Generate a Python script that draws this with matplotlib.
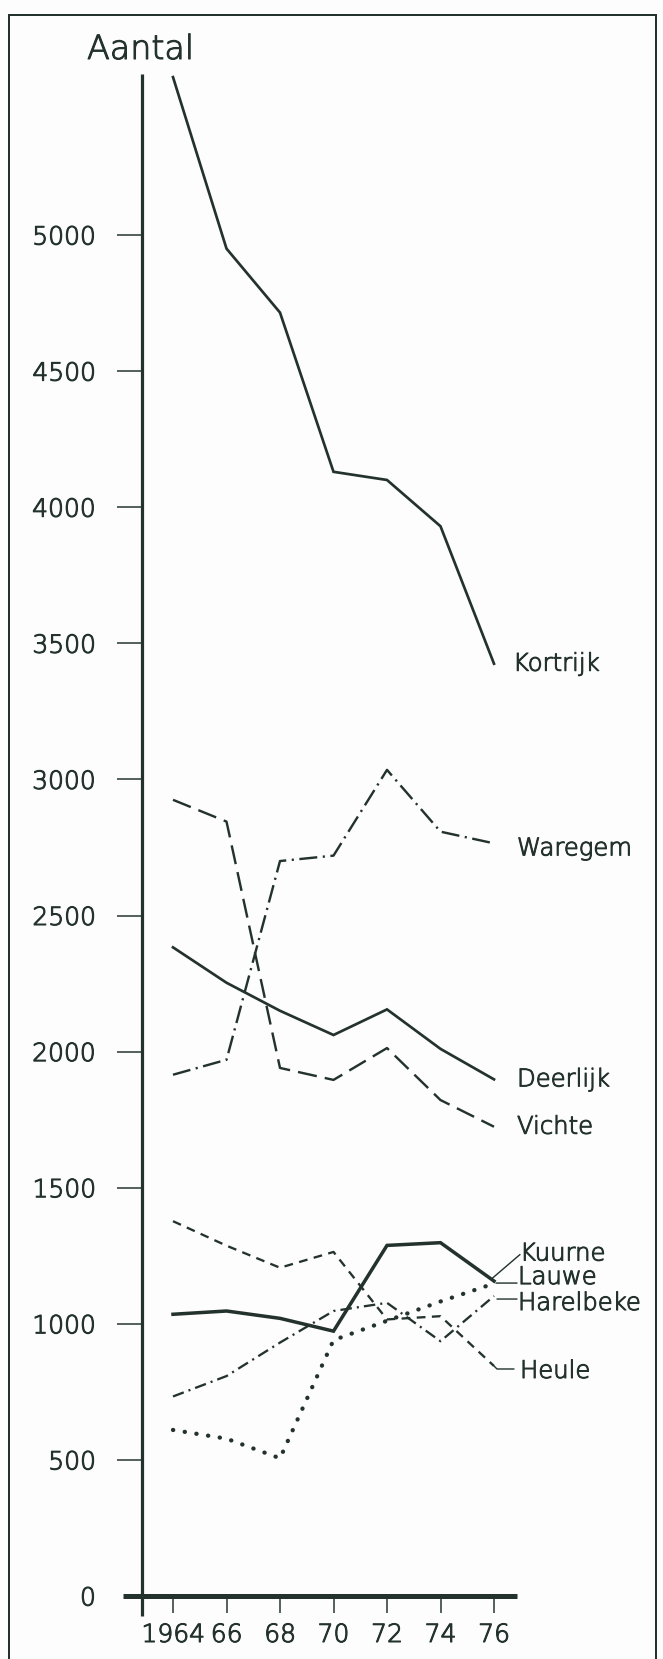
import matplotlib.pyplot as plt
import matplotlib.patheffects as pe

# data (Aantal per gemeente, 1964-1976)
years = [1964, 1966, 1968, 1970, 1972, 1974, 1976]
year_labels = ['1964', '66', '68', '70', '72', '74', '76']
y_ticks = [0, 500, 1000, 1500, 2000, 2500, 3000, 3500, 4000, 4500, 5000]

kortrijk = [5580, 4950, 4715, 4130, 4100, 3930, 3425]
waregem = [1915, 1970, 2700, 2720, 3035, 2808, 2765]
vichte = [2925, 2845, 1940, 1896, 2013, 1822, 1724]
deerlijk = [2383, 2253, 2150, 2061, 2155, 2010, 1898]
kuurne = [610, 578, 506, 940, 1011, 1082, 1148]
lauwe = [1035, 1047, 1020, 973, 1288, 1298, 1157]
harelbeke = [733, 808, 931, 1047, 1077, 936, 1102]
heule = [1377, 1287, 1206, 1264, 1016, 1028, 845]

INK = '#24322d'
PAPER = '#fcfdfc'
W, H, DPI = 663, 1659, 100
PT = 72 / DPI  # pixels -> points

plt.rcParams['font.family'] = ['DejaVu Sans']
plt.rcParams['font.weight'] = 200
# thin lettering pen: thicken the extra-light face a little
pen = [pe.withStroke(linewidth=0.75, foreground=INK)]

# layout in pixels, measured from the top-left of the picture
px_left, px_yaxis, px_right = 123, 142, 517
px_top, px_zero, px_bottom = 74, 1596, 1616
px_1964, px_1976 = 173, 494
px_per_unit = 0.2722

fig = plt.figure(figsize=(W / DPI, H / DPI), dpi=DPI, facecolor=PAPER)
ax = fig.add_axes([px_yaxis / W, 1 - px_zero / H,
                   (px_right - px_yaxis) / W, (px_zero - px_top) / H])
ax.set_facecolor('none')

px_per_year = (px_1976 - px_1964) / (1976 - 1964)
ax.set_xlim(1964 - (px_1964 - px_yaxis) / px_per_year,
            1976 + (px_right - px_1976) / px_per_year)
ax.set_ylim(0, (px_zero - px_top) / px_per_unit)

for s in ['top', 'right']:
    ax.spines[s].set_visible(False)
ax.spines['left'].set_linewidth(3.2 * PT)
ax.spines['bottom'].set_linewidth(5 * PT)
for s in ['left', 'bottom']:
    ax.spines[s].set_color(INK)
    ax.spines[s].set_capstyle('butt')

# x-axis runs a little past the y-axis, and the y-axis a little below the x-axis
ax_w, ax_h = px_right - px_yaxis, px_zero - px_top
ax.plot([-(px_yaxis - px_left) / ax_w, 0], [0, 0], transform=ax.transAxes,
        color=INK, lw=5 * PT, solid_capstyle='butt', clip_on=False)
ax.plot([0, 0], [-(px_bottom - px_zero) / ax_h, 0], transform=ax.transAxes,
        color=INK, lw=3.2 * PT, solid_capstyle='butt', clip_on=False)

ax.set_xticks(years)
ax.set_xticklabels(year_labels)
ax.set_yticks(y_ticks)
ax.tick_params(axis='y', direction='out', length=25 * PT, width=1.5 * PT,
               pad=21 * PT, labelsize=18, colors=INK)
ax.tick_params(axis='x', direction='out', length=17 * PT, width=1.5 * PT,
               pad=10 * PT, labelsize=18, colors=INK)
ax.yaxis.get_major_ticks()[0].tick1line.set_visible(False)
for t in ax.get_xticklabels() + ax.get_yticklabels():
    t.set_path_effects(pen)

series = [
    ('Kortrijk', kortrijk, dict(ls='-', lw=2.7 * PT)),
    ('Waregem', waregem, dict(ls=(0, (7.5, 2.3, 0.9, 2.3)), lw=2.4 * PT)),
    ('Deerlijk', deerlijk, dict(ls='-', lw=2.7 * PT)),
    ('Vichte', vichte, dict(ls=(0, (8, 3.4)), lw=2.4 * PT)),
    ('Kuurne', kuurne, dict(ls=(0, (0.05, 2.7)), lw=4.3 * PT, dash_capstyle='round')),
    ('Lauwe', lauwe, dict(ls='-', lw=3.5 * PT)),
    ('Harelbeke', harelbeke, dict(ls=(0, (5, 2.2, 0.9, 2.2)), lw=2.3 * PT)),
    ('Heule', heule, dict(ls=(0, (3.8, 2.8)), lw=2.3 * PT)),
]

# label offsets (pixels right, pixels down) from the last point, and leader lines
label_offsets = {
    'Kortrijk': (19, 7), 'Waregem': (23, 12), 'Deerlijk': (23, 7), 'Vichte': (23, 7),
    'Kuurne': (26, -23), 'Lauwe': (24, 3), 'Harelbeke': (24, 14), 'Heule': (26, 12),
}
leaders = {
    'Kuurne': ((-2, -5), (26, -29), 'arc3'),
    'Lauwe': ((2, 2), (23, 2), 'arc3'),
    'Harelbeke': ((3, 3), (23, 3), 'arc3'),
    'Heule': ((0, 0), (20, 3), 'angle,angleA=0,angleB=-45,rad=0'),
}

for name, vals, style in series:
    ax.plot(years, vals, color=INK, solid_joinstyle='miter', **style)
    dx, dy = label_offsets[name]
    ax.annotate(name, xy=(years[-1], vals[-1]), xytext=(dx, -dy),
                textcoords='offset pixels', ha='left', va='baseline',
                fontsize=17.5, color=INK, path_effects=pen)
    if name in leaders:
        (x0, y0), (x1, y1), conn = leaders[name]
        start = ax.transData.transform((years[-1], vals[-1]))
        p0 = ax.transData.inverted().transform((start[0] + x0, start[1] - y0))
        ax.annotate('', xy=p0, xytext=(x1 - x0, -(y1 - y0)),
                    textcoords='offset pixels',
                    arrowprops=dict(arrowstyle='-', color=INK, lw=1.4 * PT,
                                    shrinkA=0, shrinkB=0, connectionstyle=conn))

fig.text(87 / W, 1 - 59 / H, 'Aantal', fontsize=24, ha='left', va='baseline',
         color=INK, path_effects=pen)

# border of the drawing, its bottom edge runs off the page
fig.add_artist(plt.Rectangle((9 / W, -0.05), (656 - 9) / W, 1.05 - 15 / H,
                             transform=fig.transFigure, fill=False,
                             lw=2 * PT, ec=INK))

fig.savefig('out.png', dpi=DPI, facecolor=fig.get_facecolor())
